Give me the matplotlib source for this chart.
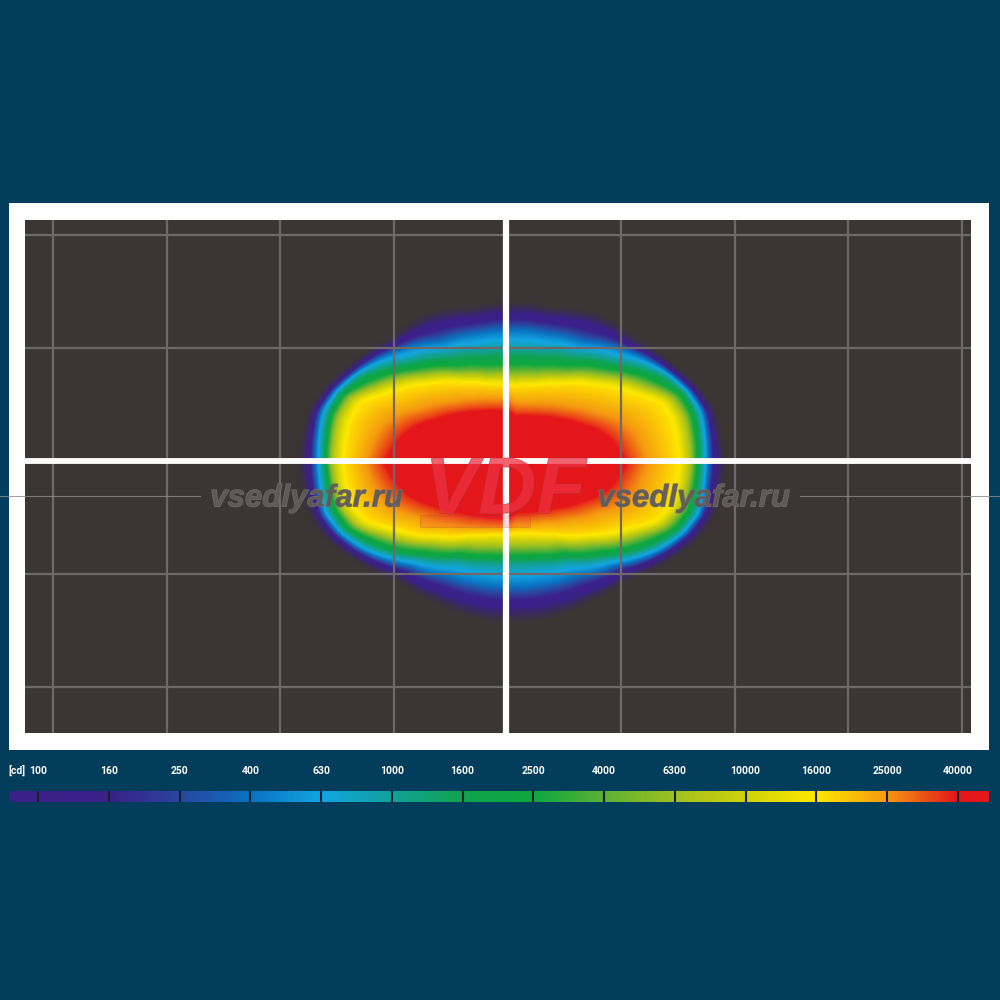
import matplotlib as mpl
import matplotlib.patheffects as pe
import matplotlib.pyplot as plt
import numpy as np
from matplotlib.colors import LinearSegmentedColormap
from matplotlib.lines import Line2D

BG_COLOR = '#023e5b'
PANEL_COLOR = '#3b3533'
GRID_COLOR = '#6d6968'

# legend: luminous intensity classes, one colour per class boundary
CD_LABELS = ['100', '160', '250', '400', '630', '1000', '1600', '2500',
             '4000', '6300', '10000', '16000', '25000', '40000']
CLASS_COLORS = ['#3a2088', '#3a2088', '#2b459e', '#0a72c2', '#12a5e2',
                '#12a199', '#0fa44f', '#0da83f', '#5bb135', '#a0c020',
                '#cfd20a', '#ffe800', '#f59a10', '#e4161a']

# isolux outlines, radius from the beam centre (px at 3x zoom)
# one value per direction, from straight up (0) to straight down (180)
DIRECTIONS = [0, 15, 30, 45, 60, 68, 75, 90, 105, 112, 120, 135, 150, 165, 180]
EDGE = [479, 482, 516, 520, 565, 600, 622, 640, 625, 600, 560, 490, 475, 478, 477]
CD_100 = [449, 450, 480, 505, 556, 590, 610, 612, 602, 580, 540, 470, 445, 435, 431]
CD_400 = [399, 403, 420, 482, 546, 578, 597, 590, 590, 565, 525, 435, 390, 376, 371]
CD_1000 = [339, 348, 378, 435, 530, 562, 576, 569, 567, 545, 500, 405, 338, 310, 301]
CD_2500 = [294, 303, 335, 400, 492, 545, 558, 554, 547, 525, 470, 375, 312, 285, 276]
CD_6300 = [261, 272, 306, 370, 462, 521, 538, 539, 527, 500, 435, 340, 280, 255, 246]
CD_16000 = [234, 246, 280, 340, 425, 490, 503, 504, 497, 470, 400, 311, 249, 219, 211]
CD_25000 = [178, 184, 203, 238, 298, 348, 378, 408, 378, 345, 298, 238, 204, 186, 180]
CD_40000 = [135, 142, 156, 184, 228, 264, 293, 338, 293, 262, 228, 184, 161, 149, 146]

OUTLINES = [EDGE, CD_100, CD_400, CD_1000, CD_2500, CD_6300, CD_16000,
            CD_25000, CD_40000]
OUTLINE_CLASSES = [-1.5, 0, 3, 5, 7, 9, 11, 12, 13]
LEFT_STRETCH = [1.0, 1.0, 1.0, 1.0, 1.0, 1.01, 1.01, 1.08, 1.12]

GRID_X = [-40, -30, -20, -10, 10, 20, 30, 40]
GRID_Y = [-20, -10, 10, 20]

ZOOM = 3.0
PX_PER_DEG_X = 11.36
PX_PER_DEG_Y = 11.28
CENTER_PX = (507.5, 461.0)
BEAM_CENTER_PX = (512.0, 463.0)


def add_axes_px(fig, left, top, right, bottom, **kwargs):
    return fig.add_axes(
        [left / 1000, 1 - bottom / 1000, (right - left) / 1000, (bottom - top) / 1000],
        **kwargs,
    )


def smooth(values, size=7):
    kernel = np.ones(size) / size
    for axis in (0, 1):
        for _ in range(2):
            values = np.apply_along_axis(
                lambda v: np.convolve(np.pad(v, size, mode='edge'), kernel, 'same')[size:-size],
                axis,
                values,
            )
    return values


def class_field(x_px, y_px):
    dx = x_px - BEAM_CENTER_PX[0]
    dy = y_px - BEAM_CENTER_PX[1]
    radius = np.hypot(dx, dy) * ZOOM
    angle = np.degrees(np.arctan2(np.abs(dx), -dy))

    field = np.full(radius.shape, OUTLINE_CLASSES[0], dtype=float)
    previous = None
    for outline, stretch, level in zip(OUTLINES, LEFT_STRETCH, OUTLINE_CLASSES):
        current = np.interp(angle, DIRECTIONS, outline) * np.where(dx < 0, stretch, 1.0)
        if previous is not None:
            inside = (radius < previous[0]) & (radius >= current)
            share = (previous[0] - radius) / (previous[0] - current)
            field = np.where(inside, previous[1] + share * (level - previous[1]), field)
        previous = (current, level)
    field = np.where(radius < previous[0], OUTLINE_CLASSES[-1] + 0.4, field)
    return smooth(field)


def build_colormap():
    vmin, vmax = -1.5, 13.45
    stops = [(0.0, PANEL_COLOR)]
    for i, color in enumerate(CLASS_COLORS):
        stops.append(((i - vmin) / (vmax - vmin), color))
    stops.append((1.0, CLASS_COLORS[-1]))
    return LinearSegmentedColormap.from_list('beam', stops, N=1024), vmin, vmax


def draw_panel(fig, cmap, vmin, vmax):
    frame = add_axes_px(fig, 9, 203, 989, 750)
    frame.set_axis_off()
    frame.add_patch(plt.Rectangle((0, 0), 1, 1, color='white', transform=frame.transAxes))

    left, top, right, bottom = 25, 220, 971, 733
    ax = add_axes_px(fig, left, top, right, bottom)
    ax.set_facecolor(PANEL_COLOR)
    extent = (
        (left - CENTER_PX[0]) / PX_PER_DEG_X,
        (right - CENTER_PX[0]) / PX_PER_DEG_X,
        (CENTER_PX[1] - bottom) / PX_PER_DEG_Y,
        (CENTER_PX[1] - top) / PX_PER_DEG_Y,
    )
    x_px, y_px = np.meshgrid(np.arange(left, right) + 0.5, np.arange(top, bottom) + 0.5)
    ax.imshow(class_field(x_px, y_px), extent=extent, origin='upper', aspect='auto',
              cmap=cmap, vmin=vmin, vmax=vmax, interpolation='bilinear')
    ax.set_xticks(GRID_X)
    ax.set_yticks(GRID_Y)
    ax.tick_params(length=0, labelbottom=False, labelleft=False)
    ax.grid(color=GRID_COLOR, linewidth=1.6)
    ax.axvline(-0.13, color='white', linewidth=4.5)
    ax.axhline(0, color='white', linewidth=4.2)
    for spine in ax.spines.values():
        spine.set_visible(False)


def draw_watermark(fig):
    for x0, x1 in ((0, 200), (800, 1000)):
        fig.add_artist(Line2D([x0 / 1000, x1 / 1000], [0.504, 0.504], color='#8a8a8a',
                              linewidth=0.8, alpha=0.8))
    for x in (306.5, 693.5):
        fig.text(x / 1000, 0.5015, 'vsedlyafar.ru', ha='center', va='center',
                 family='Liberation Sans', weight='bold', style='italic', fontsize=22.5,
                 color='#5f5b58', alpha=0.8,
                 path_effects=[pe.withStroke(linewidth=0.8, foreground='#777370')])
    fig.text(0.505, 0.5075, 'VDF', ha='center', va='center', family='Liberation Sans',
             weight='bold', style='italic', fontsize=58, color='#ee3040', alpha=0.5,
             path_effects=[pe.withStroke(linewidth=0.8, foreground='#a83a3a', alpha=0.5)])
    fig.add_artist(plt.Rectangle((0.42, 0.473), 0.11, 0.012, transform=fig.transFigure,
                                 facecolor='#ee3040', edgecolor='#9a3a3a', alpha=0.2,
                                 linewidth=0.8))


def draw_legend(fig, cmap, vmin, vmax):
    ax = add_axes_px(fig, 9, 791, 989, 802)
    classes = np.linspace(-0.41, 13.44, 980)
    ax.imshow(np.clip(classes, 0, 13.45)[np.newaxis, :], extent=(-0.41, 13.44, 0, 1),
              aspect='auto', cmap=cmap, vmin=vmin, vmax=vmax)
    for i in range(len(CD_LABELS)):
        ax.axvline(i, color='#14202c', linewidth=1.5)
    ax.set_xticks(range(len(CD_LABELS)), CD_LABELS)
    ax.xaxis.tick_top()
    ax.tick_params(axis='x', length=0, pad=11, colors='white', labelsize=7.5)
    for label in ax.get_xticklabels():
        label.set(family='Roboto', weight='bold')
    ax.set_yticks([])
    for spine in ax.spines.values():
        spine.set_visible(False)
    fig.text(0.008, 0.2295, '[cd]', ha='left', va='center', color='white', fontsize=7.5,
             family='Roboto', weight='bold')


def main():
    mpl.rcParams['figure.dpi'] = 100
    fig = plt.figure(figsize=(10, 10), facecolor=BG_COLOR)
    cmap, vmin, vmax = build_colormap()
    draw_panel(fig, cmap, vmin, vmax)
    draw_watermark(fig)
    draw_legend(fig, cmap, vmin, vmax)
    fig.savefig('out.png', facecolor=BG_COLOR)


if __name__ == '__main__':
    main()
